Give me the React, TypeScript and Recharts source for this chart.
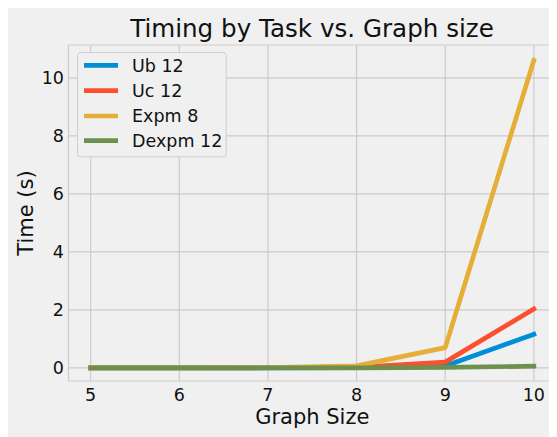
import React from 'react';
import { LineChart, Line, XAxis, YAxis, CartesianGrid, Legend } from 'recharts';

const graphSizes = [5, 6, 7, 8, 9, 10];
const ub12 = [0.002, 0.003, 0.005, 0.01, 0.07, 1.16];
const uc12 = [0.002, 0.003, 0.006, 0.02, 0.2, 2.03];
const expm8 = [0.001, 0.003, 0.01, 0.07, 0.7, 10.6];
const dexpm12 = [0.001, 0.001, 0.002, 0.005, 0.02, 0.06];
const xTicks = [5, 6, 7, 8, 9, 10];
const yTicks = [0, 2, 4, 6, 8, 10];

const seriesNames = ['Ub 12', 'Uc 12', 'Expm 8', 'Dexpm 12'];
const seriesKeys = ['ub12', 'uc12', 'expm8', 'dexpm12'];
const seriesColors = ['#008fd5', '#fc4f30', '#e5ae38', '#6d904f'];

const data = graphSizes.map((s, i) => ({
  size: s,
  ub12: ub12[i],
  uc12: uc12[i],
  expm8: expm8[i],
  dexpm12: dexpm12[i],
}));

const FONT = '"DejaVu Sans", sans-serif';
const W = 549;
const H = 429;

const XTick = (props: any) => {
  const { x, y, payload } = props;
  return (
    <text x={x} y={y + 20} textAnchor="middle" fontFamily={FONT} fontSize={17.5} fill="#111">
      {payload.value}
    </text>
  );
};

const YTick = (props: any) => {
  const { x, y, payload } = props;
  return (
    <text x={x - 4.5} y={y + 6.4} textAnchor="end" fontFamily={FONT} fontSize={17.5} fill="#111">
      {payload.value}
    </text>
  );
};

const LegendBox = () => {
  const rowY = [13.3, 38.6, 64, 88.6];
  return (
    <svg width={150} height={106} style={{ display: 'block' }}>
      <rect x={0.5} y={0.5} width={148.7} height={104.3} rx={3} ry={3} fill="#f0f0f0" stroke="#cfcfcf" strokeWidth={1} />
      {seriesNames.map((n, i) => (
        <g key={n}>
          <line x1={7} x2={41} y1={rowY[i]} y2={rowY[i]} stroke={seriesColors[i]} strokeWidth={4.7} />
          <text x={55} y={rowY[i] + 6.4} fontFamily={FONT} fontSize={17.5} fill="#111">
            {n}
          </text>
        </g>
      ))}
    </svg>
  );
};

export default function App() {
  return (
    <div style={{ width: W, height: H, background: '#f0f0f0', position: 'relative' }}>
      <LineChart
        width={W}
        height={H}
        data={data}
        margin={{ top: 37, right: 1, bottom: 0, left: 0 }}
      >
        <CartesianGrid stroke="#cbcbcb" strokeWidth={1.2} />
        <XAxis
          dataKey="size"
          type="number"
          domain={[4.75, 10.25]}
          ticks={xTicks}
          height={56}
          tickLine={false}
          axisLine={false}
          tickSize={0}
          tickMargin={0}
          tick={<XTick />}
          interval={0}
          allowDataOverflow
          label={{
            value: 'Graph Size',
            position: 'insideBottom',
            offset: 12.7,
            style: { fontFamily: FONT, fontSize: 21, fill: '#111' },
          }}
        />
        <YAxis
          type="number"
          domain={[-0.45, 11.13]}
          ticks={yTicks}
          width={60.5}
          tickLine={false}
          axisLine={false}
          tickSize={0}
          tickMargin={0}
          tick={<YTick />}
          interval={0}
          allowDataOverflow
          label={{
            value: 'Time (s)',
            angle: -90,
            position: 'insideLeft',
            offset: 18,
            style: { fontFamily: FONT, fontSize: 21, fill: '#111', textAnchor: 'middle' },
          }}
        />
        {seriesKeys.map((k, i) => (
          <Line
            key={k}
            type="linear"
            dataKey={k}
            name={seriesNames[i]}
            stroke={seriesColors[i]}
            strokeWidth={4.7}
            strokeLinecap="square"
            strokeLinejoin="round"
            dot={false}
            activeDot={false}
            isAnimationActive={false}
          />
        ))}
        <Legend
          layout="vertical"
          align="center"
          verticalAlign="middle"
          content={() => <LegendBox />}
          wrapperStyle={{ left: 69, top: 43.7, width: 150, height: 106 }}
        />
      </LineChart>
      <div
        style={{
          position: 'absolute',
          left: 0,
          top: 0,
          width: 2 * 304,
          textAlign: 'center',
          fontFamily: FONT,
          fontSize: 24.6,
          lineHeight: '25px',
          paddingTop: 7.5,
          color: '#111',
          pointerEvents: 'none',
          whiteSpace: 'nowrap',
        }}
      >
        Timing by Task vs. Graph size
      </div>
    </div>
  );
}
